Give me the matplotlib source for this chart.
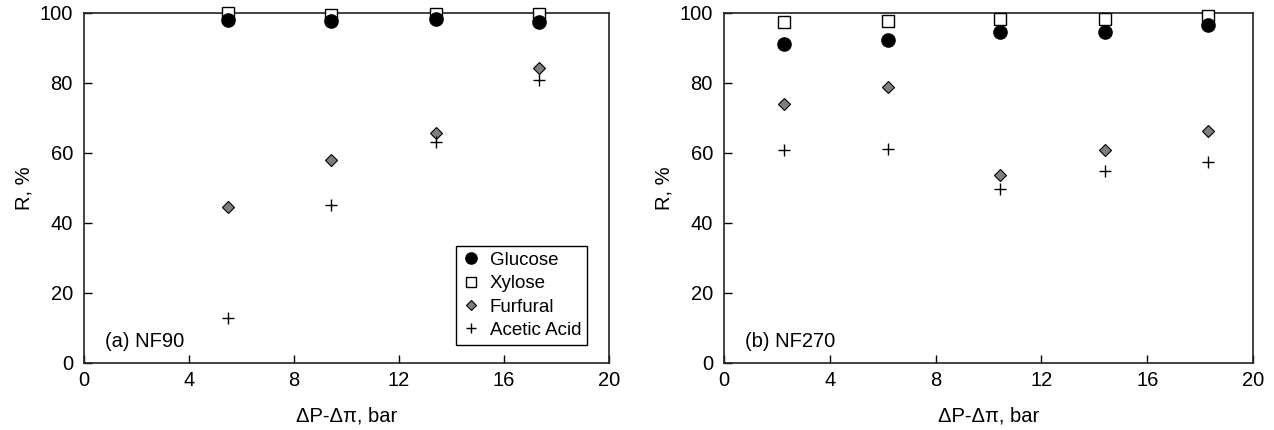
import matplotlib
matplotlib.use("Agg")
import matplotlib.pyplot as plt

plt.rcParams['font.family'] = ['Liberation Sans', 'DejaVu Sans']

# Panel (a) NF90
x_a = [5.5, 9.4, 13.4, 17.35]
glucose_a = [97.9, 97.6, 98.1, 97.4]
xylose_a = [99.8, 99.3, 99.6, 99.6]
furfural_a = [44.6, 57.9, 65.6, 84.3]
acetic_a = [12.9, 45.1, 63.0, 80.8]

# Panel (b) NF270
x_b = [2.25, 6.2, 10.45, 14.4, 18.3]
glucose_b = [91.1, 92.1, 94.5, 94.5, 96.4]
xylose_b = [97.3, 97.5, 98.3, 98.3, 99.2]
furfural_b = [74.0, 78.9, 53.5, 60.9, 66.2]
acetic_b = [60.7, 61.1, 49.5, 54.7, 57.3]

xticks = [0, 4, 8, 12, 16, 20]
yticks = [0, 20, 40, 60, 80, 100]
labels = ['Glucose', 'Xylose', 'Furfural', 'Acetic Acid']

fig = plt.figure(figsize=(12.74, 4.30), dpi=100)
ax1 = fig.add_axes([84/1274, 1-362.7/430, 525/1274, 350/430])
ax2 = fig.add_axes([724/1274, 1-362.7/430, 529/1274, 350/430])

FS = 14.5


def draw(ax, x, g, xy, f, a, tag, legend=False):
    h2, = ax.plot(x, xy, ls='none', marker='s', ms=8.5, mfc='white', mec='black',
                  mew=1.0, clip_on=False, zorder=3)
    h1, = ax.plot(x, g, ls='none', marker='o', ms=9.5, mfc='black', mec='black',
                  clip_on=False, zorder=4)
    h3, = ax.plot(x, f, ls='none', marker='D', ms=6.5, mfc='#7f7f7f', mec='black',
                  mew=0.8, clip_on=False, zorder=3)
    h4, = ax.plot(x, a, ls='none', marker='+', ms=9, mec='black', mew=1.0,
                  clip_on=False, zorder=3)
    ax.set_xlim(0, 20)
    ax.set_ylim(0, 100)
    ax.set_xticks(xticks)
    ax.set_yticks(yticks)
    ax.tick_params(direction='in', length=6, width=1, labelsize=FS,
                   top=False, right=False)
    ax.tick_params(axis='y', pad=8)
    ax.tick_params(axis='x', pad=6)
    for s in ax.spines.values():
        s.set_linewidth(1.2)
        s.set_color('#222222')
    ax.set_xlabel('ΔP-Δπ, bar', fontsize=FS, labelpad=12)
    ax.set_ylabel('R, %', fontsize=FS, labelpad=4)
    ax.text(0.04, 0.06, tag, transform=ax.transAxes, fontsize=FS,
            ha='left', va='center')
    if legend:
        leg = ax.legend([h1, h2, h3, h4], labels, loc='lower right',
                        bbox_to_anchor=(0.958, 0.052), fontsize=13.5,
                        frameon=True, fancybox=False, edgecolor='black',
                        framealpha=1, borderpad=0.3, labelspacing=0.33,
                        handletextpad=0.5, handlelength=1.0, borderaxespad=0,
                        markerscale=0.85)
        leg.get_frame().set_linewidth(1.0)


draw(ax1, x_a, glucose_a, xylose_a, furfural_a, acetic_a, '(a) NF90', legend=True)
draw(ax2, x_b, glucose_b, xylose_b, furfural_b, acetic_b, '(b) NF270')

fig.savefig('out.png', dpi=100)
